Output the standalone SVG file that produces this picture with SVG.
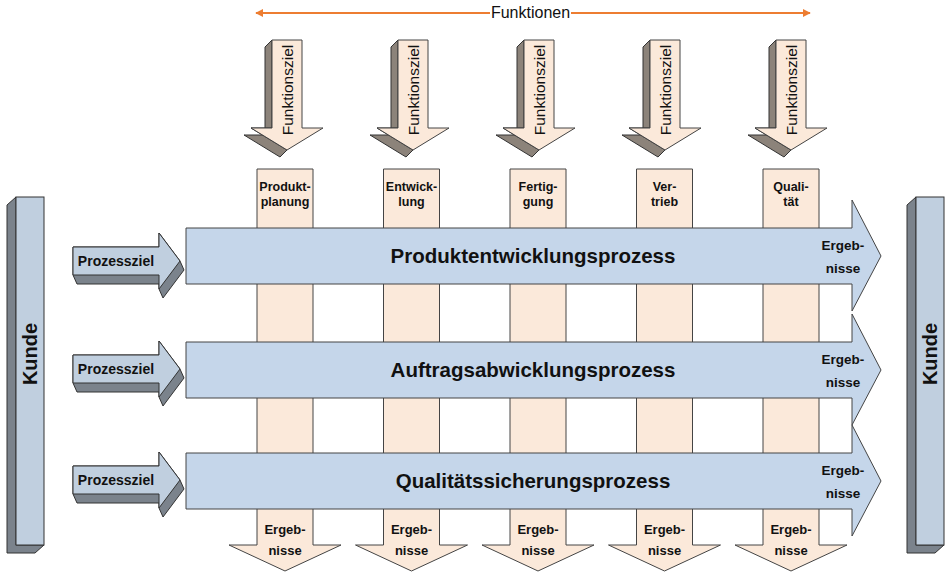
<svg xmlns="http://www.w3.org/2000/svg" width="946" height="572" viewBox="0 0 946 572">
<defs>
<style>
text{font-family:"Liberation Sans",Arial,sans-serif;fill:#111}
.b{font-weight:bold}
.peach{fill:#fbe9da;stroke:#444;stroke-width:1}
.fzside{fill:#8c837a;stroke:#333;stroke-width:1}
.blue{fill:#c5d6ea;stroke:#444;stroke-width:1}
.kfront{fill:#c0cfdf;stroke:#333;stroke-width:1}
.kside{fill:#7b838c;stroke:#333;stroke-width:1}
.orange{stroke:#ed7d31;stroke-width:2;fill:none}
</style>
<marker id="ah" viewBox="0 0 10 10" refX="9" refY="5" markerWidth="4" markerHeight="4" orient="auto" markerUnits="strokeWidth">
<path d="M0,0 L10,5 L0,10 z" fill="#ed7d31"/>
</marker>
</defs>
<rect width="946" height="572" fill="#fff"/>

<g id="funktionen">
<line class="orange" x1="490" y1="13" x2="256" y2="13" marker-end="url(#ah)"/>
<line class="orange" x1="571" y1="13" x2="810" y2="13" marker-end="url(#ah)"/>
<text x="530.5" y="18" font-size="16" text-anchor="middle">Funktionen</text>
</g>

<g id="columns">
<g id="col1">
<polygon class="peach" points="257,169 313,169 313,545 341,545 285,571 229,545 257,545"/>
<text class="b" x="285" y="191" font-size="12.5" text-anchor="middle">Produkt-</text>
<text class="b" x="285" y="206" font-size="12.5" text-anchor="middle">planung</text>
<text class="b" x="285" y="534" font-size="13" text-anchor="middle">Ergeb-</text>
<text class="b" x="285" y="555" font-size="13" text-anchor="middle">nisse</text>
</g>
<g id="col2">
<polygon class="peach" points="383.5,169 439.5,169 439.5,545 467.5,545 411.5,571 355.5,545 383.5,545"/>
<text class="b" x="411.5" y="191" font-size="12.5" text-anchor="middle">Entwick-</text>
<text class="b" x="411.5" y="206" font-size="12.5" text-anchor="middle">lung</text>
<text class="b" x="411.5" y="534" font-size="13" text-anchor="middle">Ergeb-</text>
<text class="b" x="411.5" y="555" font-size="13" text-anchor="middle">nisse</text>
</g>
<g id="col3">
<polygon class="peach" points="510,169 566,169 566,545 594,545 538,571 482,545 510,545"/>
<text class="b" x="538" y="191" font-size="12.5" text-anchor="middle">Fertig-</text>
<text class="b" x="538" y="206" font-size="12.5" text-anchor="middle">gung</text>
<text class="b" x="538" y="534" font-size="13" text-anchor="middle">Ergeb-</text>
<text class="b" x="538" y="555" font-size="13" text-anchor="middle">nisse</text>
</g>
<g id="col4">
<polygon class="peach" points="636.5,169 692.5,169 692.5,545 720.5,545 664.5,571 608.5,545 636.5,545"/>
<text class="b" x="664.5" y="191" font-size="12.5" text-anchor="middle">Ver-</text>
<text class="b" x="664.5" y="206" font-size="12.5" text-anchor="middle">trieb</text>
<text class="b" x="664.5" y="534" font-size="13" text-anchor="middle">Ergeb-</text>
<text class="b" x="664.5" y="555" font-size="13" text-anchor="middle">nisse</text>
</g>
<g id="col5">
<polygon class="peach" points="763,169 819,169 819,545 847,545 791,571 735,545 763,545"/>
<text class="b" x="791" y="191" font-size="12.5" text-anchor="middle">Quali-</text>
<text class="b" x="791" y="206" font-size="12.5" text-anchor="middle">tät</text>
<text class="b" x="791" y="534" font-size="13" text-anchor="middle">Ergeb-</text>
<text class="b" x="791" y="555" font-size="13" text-anchor="middle">nisse</text>
</g>
</g>

<g id="funktionsziele">
<g id="fz1" transform="translate(287,0)">
<polygon class="fzside" points="-15,40 -22,47 -22,135 -43,135 -7,157 0,150 -36,128 -15,128"/>
<polygon class="peach" points="-15,40 15,40 15,128 36,128 0,150 -36,128 -15,128"/>
<text x="0" y="0" font-size="15.5" text-anchor="middle" transform="translate(5.5,90) rotate(-90)">Funktionsziel</text>
</g>
<g id="fz2" transform="translate(413,0)">
<polygon class="fzside" points="-15,40 -22,47 -22,135 -43,135 -7,157 0,150 -36,128 -15,128"/>
<polygon class="peach" points="-15,40 15,40 15,128 36,128 0,150 -36,128 -15,128"/>
<text x="0" y="0" font-size="15.5" text-anchor="middle" transform="translate(5.5,90) rotate(-90)">Funktionsziel</text>
</g>
<g id="fz3" transform="translate(539,0)">
<polygon class="fzside" points="-15,40 -22,47 -22,135 -43,135 -7,157 0,150 -36,128 -15,128"/>
<polygon class="peach" points="-15,40 15,40 15,128 36,128 0,150 -36,128 -15,128"/>
<text x="0" y="0" font-size="15.5" text-anchor="middle" transform="translate(5.5,90) rotate(-90)">Funktionsziel</text>
</g>
<g id="fz4" transform="translate(665,0)">
<polygon class="fzside" points="-15,40 -22,47 -22,135 -43,135 -7,157 0,150 -36,128 -15,128"/>
<polygon class="peach" points="-15,40 15,40 15,128 36,128 0,150 -36,128 -15,128"/>
<text x="0" y="0" font-size="15.5" text-anchor="middle" transform="translate(5.5,90) rotate(-90)">Funktionsziel</text>
</g>
<g id="fz5" transform="translate(791,0)">
<polygon class="fzside" points="-15,40 -22,47 -22,135 -43,135 -7,157 0,150 -36,128 -15,128"/>
<polygon class="peach" points="-15,40 15,40 15,128 36,128 0,150 -36,128 -15,128"/>
<text x="0" y="0" font-size="15.5" text-anchor="middle" transform="translate(5.5,90) rotate(-90)">Funktionsziel</text>
</g>
</g>

<g id="processes">
<g id="p1" transform="translate(0,256)">
<polygon class="blue" points="186,-28 852,-28 852,-56 881,0 852,55 852,28 186,28"/>
<text class="b" x="533" y="7" font-size="20.5" text-anchor="middle">Produktentwicklungsprozess</text>
<text class="b" x="843" y="-6" font-size="13.5" text-anchor="middle">Ergeb-</text>
<text class="b" x="843" y="17" font-size="13.5" text-anchor="middle">nisse</text>
</g>
<g id="p2" transform="translate(0,370)">
<polygon class="blue" points="186,-28 852,-28 852,-56 881,0 852,55 852,28 186,28"/>
<text class="b" x="533" y="7" font-size="20.5" text-anchor="middle">Auftragsabwicklungsprozess</text>
<text class="b" x="843" y="-6" font-size="13.5" text-anchor="middle">Ergeb-</text>
<text class="b" x="843" y="17" font-size="13.5" text-anchor="middle">nisse</text>
</g>
<g id="p3" transform="translate(0,481)">
<polygon class="blue" points="186,-28 852,-28 852,-56 881,0 852,55 852,28 186,28"/>
<text class="b" x="533" y="7" font-size="20.5" text-anchor="middle">Qualitätssicherungsprozess</text>
<text class="b" x="843" y="-6" font-size="13.5" text-anchor="middle">Ergeb-</text>
<text class="b" x="843" y="17" font-size="13.5" text-anchor="middle">nisse</text>
</g>
</g>

<g id="prozessziele">
<g id="pz1" transform="translate(0,261)">
<polygon class="kside" points="159,-28 180,0 184,9 163,37 159,28 159,23 77,23 73,14 73,-14 159,-14"/>
<polygon class="kfront" points="73,-14 159,-14 159,-28 180,0 159,28 159,14 73,14"/>
<text class="b" x="116" y="5" font-size="14" text-anchor="middle">Prozessziel</text>
</g>
<g id="pz2" transform="translate(0,369)">
<polygon class="kside" points="159,-28 180,0 184,9 163,37 159,28 159,23 77,23 73,14 73,-14 159,-14"/>
<polygon class="kfront" points="73,-14 159,-14 159,-28 180,0 159,28 159,14 73,14"/>
<text class="b" x="116" y="5" font-size="14" text-anchor="middle">Prozessziel</text>
</g>
<g id="pz3" transform="translate(0,480)">
<polygon class="kside" points="159,-28 180,0 184,9 163,37 159,28 159,23 77,23 73,14 73,-14 159,-14"/>
<polygon class="kfront" points="73,-14 159,-14 159,-28 180,0 159,28 159,14 73,14"/>
<text class="b" x="116" y="5" font-size="14" text-anchor="middle">Prozessziel</text>
</g>
</g>

<g id="kunde-left">
<polygon class="kside" points="16,197 7,205 7,553 35,553 44,545 16,545"/>
<rect class="kfront" x="16" y="197" width="28" height="348"/>
<text class="b" x="0" y="0" font-size="20" text-anchor="middle" transform="translate(37,354) rotate(-90)">Kunde</text>
</g>
<g id="kunde-right">
<polygon class="kside" points="916,197 907,205 907,553 935,553 944,545 916,545"/>
<rect class="kfront" x="916" y="197" width="28" height="348"/>
<text class="b" x="0" y="0" font-size="20" text-anchor="middle" transform="translate(937,354) rotate(-90)">Kunde</text>
</g>
</svg>
